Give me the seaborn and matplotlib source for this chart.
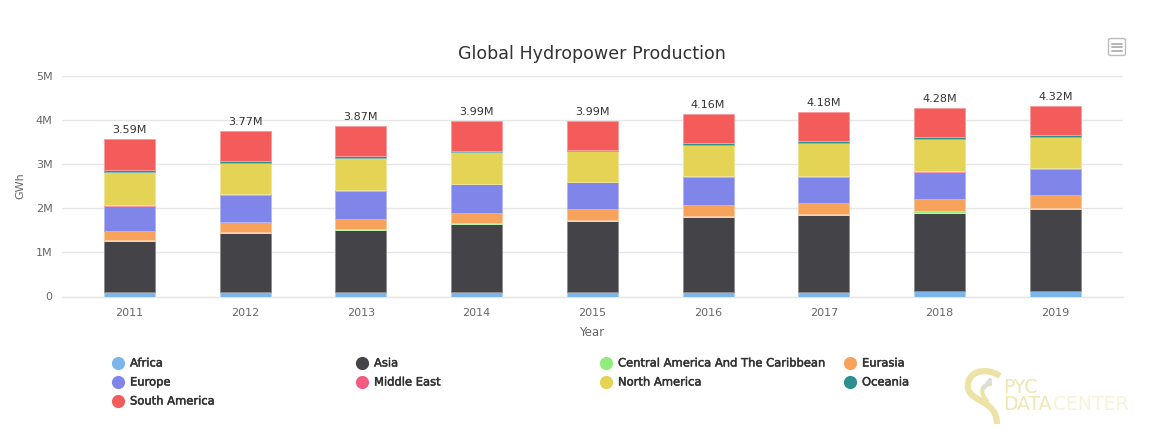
import numpy as np
import matplotlib
matplotlib.use("Agg")
import matplotlib.pyplot as plt
import matplotlib.patheffects as pe
from matplotlib.colors import to_rgb
from matplotlib.lines import Line2D
from matplotlib.path import Path
from matplotlib.patches import FancyBboxPatch, PathPatch
import seaborn as sns

years = ['2011', '2012', '2013', '2014', '2015', '2016', '2017', '2018', '2019']
totals = ['3.59M', '3.77M', '3.87M', '3.99M', '3.99M', '4.16M', '4.18M', '4.28M', '4.32M']

# millions of GWh per region
africa = [0.106, 0.11, 0.11, 0.106, 0.106, 0.11, 0.11, 0.13, 0.13]
asia = [1.144, 1.32, 1.39, 1.544, 1.614, 1.685, 1.745, 1.77, 1.855]
central_america = [0.02, 0.025, 0.02, 0.025, 0.02, 0.025, 0.025, 0.03, 0.03]
eurasia = [0.22, 0.245, 0.245, 0.225, 0.25, 0.26, 0.25, 0.27, 0.295]
europe = [0.56, 0.595, 0.635, 0.645, 0.60, 0.625, 0.58, 0.62, 0.58]
middle_east = [0.02, 0.025, 0.02, 0.015, 0.015, 0.025, 0.02, 0.02, 0.03]
north_america = [0.75, 0.70, 0.71, 0.71, 0.69, 0.695, 0.75, 0.73, 0.69]
oceania = [0.04, 0.05, 0.05, 0.04, 0.035, 0.045, 0.04, 0.04, 0.05]
south_america = [0.71, 0.68, 0.68, 0.67, 0.65, 0.665, 0.66, 0.66, 0.66]

names = ['Africa', 'Asia', 'Central America And The Caribbean', 'Eurasia', 'Europe',
         'Middle East', 'North America', 'Oceania', 'South America']
series = [africa, asia, central_america, eurasia, europe,
          middle_east, north_america, oceania, south_america]
colors = ['#7cb5ec', '#434348', '#90ed7d', '#f7a35c', '#8085e9',
          '#f15c80', '#e4d354', '#2b908f', '#f45b5b']

sns.set_theme(style="whitegrid")
plt.rcParams['font.family'] = ['DejaVu Sans']
W, H = 1162, 433
fig = plt.figure(figsize=(W / 100, H / 100), dpi=100, facecolor='white')
ax = fig.add_axes([61.7 / W, 1 - 296.5 / H, (1123 - 61.7) / W, (296.5 - 76) / H])


def lighten(c, amount=0.4):
    r = np.array(to_rgb(c))
    return tuple(r + (1 - r) * amount)


bottom = np.zeros(len(years))
for vals, col in zip(series, colors):
    sns.barplot(x=years, y=vals, bottom=bottom, color=col, saturation=1, width=0.44,
                edgecolor=lighten(col), linewidth=0.7, ax=ax, zorder=3)
    bottom = bottom + np.array(vals)

ax.bar_label(ax.containers[-1], labels=totals, padding=3, fontsize=8, color='#333333')

ax.set_xlim(-0.584, 8.584)
ax.set_ylim(0, 5)
ax.set_yticks([0, 1, 2, 3, 4, 5])
ax.set_yticklabels(['0', '1M', '2M', '3M', '4M', '5M'])
ax.grid(axis='y', color='#e6e6e6', linewidth=1)
ax.grid(axis='x', visible=False)
ax.set_axisbelow(True)
sns.despine(ax=ax, left=True, bottom=False, right=True, top=True)
ax.spines['bottom'].set_color('#e6e6e6')
ax.spines['bottom'].set_linewidth(1)
ax.tick_params(axis='both', length=0, labelsize=8, labelcolor='#666666')
ax.tick_params(axis='x', pad=8.5)
ax.tick_params(axis='y', pad=6.5)
ax.set_xlabel('')
ax.set_ylabel('')

fig.text(592 / W, 1 - 54 / H, 'Global Hydropower Production', ha='center', va='center',
         fontsize=12.6, color='#333333')
fig.text(20 / W, 1 - 186 / H, 'GWh', rotation=90, ha='center', va='center', fontsize=8, color='#666666')
fig.text(592 / W, 1 - 333 / H, 'Year', ha='center', va='center', fontsize=8.5, color='#666666')

# legend laid out as a 4 column grid
for i, (name, col) in enumerate(zip(names, colors)):
    x = 118 + 244 * (i % 4)
    y = 363 + 19 * (i // 4)
    fig.add_artist(Line2D([x / W], [1 - y / H], marker='o', markersize=9.5, color=col,
                          markeredgewidth=0, linestyle='none', transform=fig.transFigure))
    t = fig.text((x + 12) / W, 1 - y / H, name, ha='left', va='center', fontsize=8.3, color='#333333')
    t.set_path_effects([pe.withStroke(linewidth=0.35, foreground='#333333')])

# export menu button
fig.add_artist(FancyBboxPatch((1108.5 / W, 1 - 55.5 / H), 17 / W, 17 / H,
                              boxstyle='round,pad=0,rounding_size=0.003',
                              transform=fig.transFigure, facecolor='white',
                              edgecolor='#bbbbbb', linewidth=1))
for y in [43.5, 47, 50.5]:
    fig.add_artist(Line2D([1112 / W, 1122 / W], [1 - y / H, 1 - y / H],
                          color='#b5b5b5', linewidth=1.4, transform=fig.transFigure))

# watermark logo
logo = fig.add_axes([0, 0, 1, 1], facecolor='none')
logo.set_xlim(0, W)
logo.set_ylim(H, 0)
logo.axis('off')
C4 = Path.CURVE4
swirl = Path([(1000, 376), (985, 366), (966, 372), (968, 388),
              (970, 402), (997, 400), (997, 424)],
             [Path.MOVETO, C4, C4, C4, C4, C4, C4])
inner = Path([(992, 384), (982, 384), (978, 392), (988, 402)],
             [Path.MOVETO, C4, C4, C4])
logo.add_patch(PathPatch(swirl, facecolor='none', edgecolor='#eee3a6', linewidth=4.5))
logo.add_patch(PathPatch(inner, facecolor='none', edgecolor='#eee3a6', linewidth=3))
logo.plot([984, 990], [388, 380], color='#dddddd', linewidth=3, solid_capstyle='round')
logo.text(1003, 387.5, 'PYC', fontsize=13.5, color='#efe6b3', ha='left', va='center')
logo.text(1003, 404.5, 'DATA', fontsize=13.5, color='#efe6b3', ha='left', va='center')
logo.text(1053, 404.5, 'CENTER', fontsize=13.5, color='#f7f3d9', ha='left', va='center')

fig.savefig('out.png', dpi=100)
